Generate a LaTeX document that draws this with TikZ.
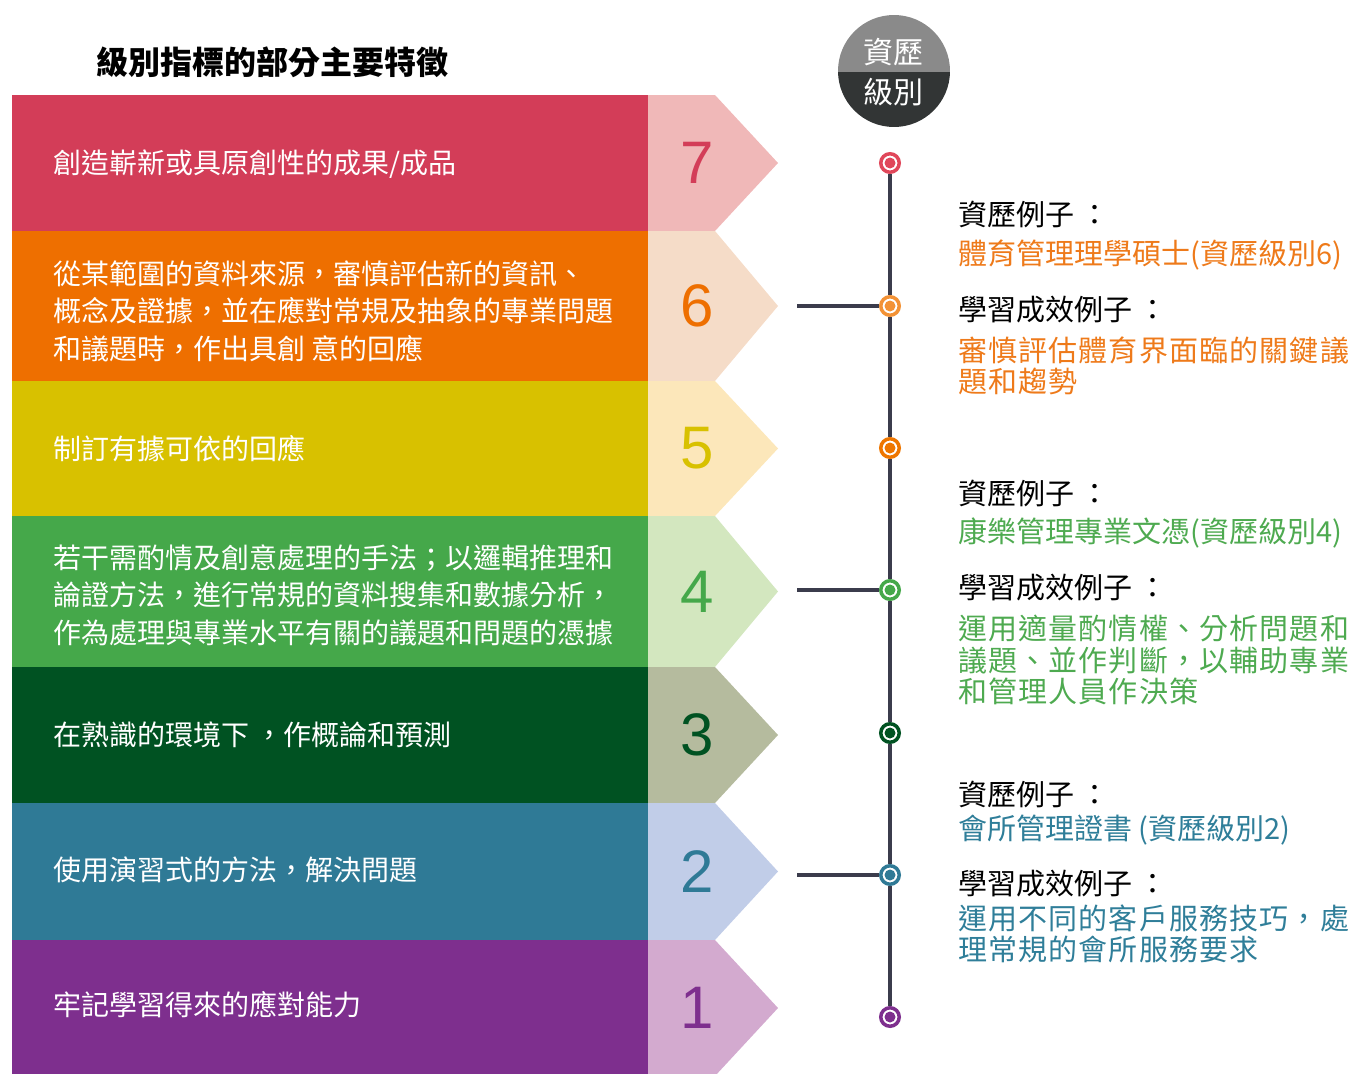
\documentclass[tikz,border=0pt]{standalone}
\usepackage{fontspec}
\setmainfont{Liberation Sans}
\newfontfamily\cjk{Noto Sans CJK TC}
\newfontfamily\cjkwide[LetterSpace=4]{Noto Sans CJK TC}

\definecolor{dark7}{HTML}{D33D58}
\definecolor{light7}{HTML}{F0B8B8}
\definecolor{dark6}{HTML}{EE6F00}
\definecolor{light6}{HTML}{F5DCC8}
\definecolor{dark5}{HTML}{D8C100}
\definecolor{light5}{HTML}{FCE7BA}
\definecolor{dark4}{HTML}{45A84A}
\definecolor{light4}{HTML}{D3E7BF}
\definecolor{dark3}{HTML}{005222}
\definecolor{light3}{HTML}{B5BB9E}
\definecolor{dark2}{HTML}{2F7A96}
\definecolor{light2}{HTML}{C1CDE8}
\definecolor{dark1}{HTML}{7E2F8E}
\definecolor{light1}{HTML}{D3AACF}
\definecolor{dot7}{HTML}{E0475A}
\definecolor{dot6}{HTML}{F39235}
\definecolor{dot5}{HTML}{EE7600}
\colorlet{dot4}{dark4}
\colorlet{dot3}{dark3}
\colorlet{dot2}{dark2}
\colorlet{dot1}{dark1}
\definecolor{linegray}{HTML}{3B3C4C}
\definecolor{badgetop}{HTML}{8A8A8A}
\definecolor{badgebot}{HTML}{323535}
\definecolor{txtorange}{HTML}{EE7A1A}
\definecolor{txtgreen}{HTML}{4EAA50}
\definecolor{txtteal}{HTML}{2F7E99}

\begin{document}
\begin{tikzpicture}[x=1pt,y=-1pt,
        band/.style={anchor=west,inner sep=0pt,text=white,align=left,font=\cjk\fontsize{28}{37.5}\selectfont},
        level/.style={inner sep=0pt,font=\fontsize{60}{60}\selectfont},
        dot/.style={circle,draw=#1,fill=white,line width=3.5pt,inner sep=0pt,minimum size=18.5pt,
                path picture={\fill[#1] (path picture bounding box.center) circle (5.5pt);}},
        tline/.style={linegray,line width=4pt},
        note/.style={anchor=west,inner sep=0pt,align=left,font=\cjk\fontsize{29}{31.5}\selectfont},
        body/.style={anchor=west,inner sep=0pt,align=left,font=\cjkwide\fontsize{29}{31.5}\selectfont}]
        \useasboundingbox (0,0) rectangle (1356,1073);

        % Title
        \node[anchor=west,inner sep=0pt,font=\cjk\bfseries\fontsize{32}{32}\selectfont] (title) at (96,62) {級別指標的部分主要特徵};

        % Bands and chevrons
        \foreach \n/\ya/\yb in {7/95/231, 6/231/381, 5/381/516, 4/516/667, 3/667/803, 2/803/940, 1/940/1076} {
                \pgfmathsetmacro\ym{(\ya+\yb)/2}
                \fill[dark\n] (12,\ya) rectangle (648,\yb);
                \fill[light\n] (648,\ya) -- (715,\ya) -- (778,\ym) -- (715,\yb) -- (648,\yb) -- cycle;
                \node[level,text=dark\n] (n\n) at (697,\ym) {\n};
            }

        % Band texts
        \node[band] (t7) at (53,164) {創造嶄新或具原創性的成果/成品};
        \node[band] (t6) at (53,311) {從某範圍的資料來源，審慎評估新的資訊、\\概念及證據，並在應對常規及抽象的專業問題\\和議題時，作出具創 意的回應};
        \node[band] (t5) at (53,449) {制訂有據可依的回應};
        \node[band] (t4) at (53,595) {若干需酌情及創意處理的手法；以邏輯推理和\\論證方法，進行常規的資料搜集和數據分析，\\作為處理與專業水平有關的議題和問題的憑據};
        \node[band] (t3) at (53,735) {在熟識的環境下 ，作概論和預測};
        \node[band] (t2) at (53,870) {使用演習式的方法，解決問題};
        \node[band] (t1) at (53,1005) {牢記學習得來的應對能力};

        % Badge
        \begin{scope}
            \clip (894,71) circle (56);
            \fill[badgetop] (838,15) rectangle (950,72);
            \fill[badgebot] (838,72) rectangle (950,127);
        \end{scope}
        \node[inner sep=0pt,text=white,font=\cjk\fontsize{30}{30}\selectfont] (badge1) at (893,52) {資歷};
        \node[inner sep=0pt,text=white,font=\cjk\fontsize{30}{30}\selectfont] (badge2) at (893,92) {級別};

        % Timeline
        \foreach \n/\y in {7/163, 6/306, 5/448, 4/590, 3/733, 2/875, 1/1017} {
                \node[dot=dot\n] (d\n) at (890,\y) {};
            }
        \foreach \a/\b in {7/6, 6/5, 5/4, 4/3, 3/2, 2/1} {
                \draw[tline] (d\a) -- (d\b);
            }
        \foreach \n/\y in {6/306, 4/590, 2/875} {
                \coordinate (c\n) at (797,\y);
                \draw[tline] (c\n) -- (d\n);
            }

        % Examples, level 6
        \node[note] (q6) at (958,214) {資歷例子 ：};
        \node[note,text=txtorange] (e6) at (958,255) {體育管理理學碩士(資歷級別6)};
        \node[note] (h6) at (958,310) {學習成效例子 ：};
        \node[body,text=txtorange] (o6) at (958,366) {審慎評估體育界面臨的關鍵議\\題和趨勢};

        % Examples, level 4
        \node[note] (q4) at (958,493) {資歷例子 ：};
        \node[note,text=txtgreen] (e4) at (958,533) {康樂管理專業文憑(資歷級別4)};
        \node[note] (h4) at (958,588) {學習成效例子 ：};
        \node[body,text=txtgreen] (o4) at (958,660) {運用適量酌情權、分析問題和\\議題、並作判斷，以輔助專業\\和管理人員作決策};

        % Examples, level 2
        \node[note] (q2) at (958,794) {資歷例子 ：};
        \node[note,text=txtteal] (e2) at (958,830) {會所管理證書 (資歷級別2)};
        \node[note] (h2) at (958,884) {學習成效例子 ：};
        \node[body,text=txtteal] (o2) at (958,934) {運用不同的客戶服務技巧，處\\理常規的會所服務要求};
    \end{tikzpicture}
\end{document}
